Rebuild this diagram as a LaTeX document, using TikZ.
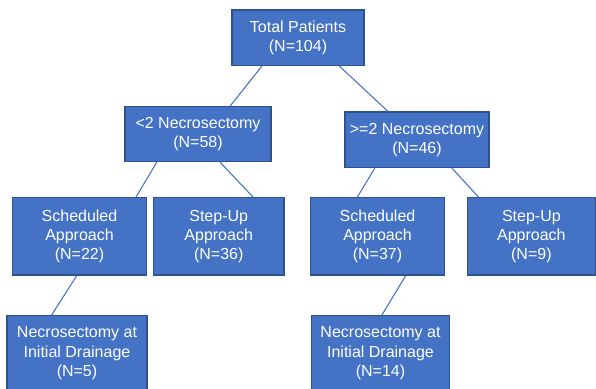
\documentclass[tikz,border=0pt]{standalone}
\usepackage{fontspec}
\setmainfont{Liberation Sans}
\usetikzlibrary{positioning, calc}

\definecolor{boxfill}{HTML}{4472C4}
\definecolor{boxline}{HTML}{2F528F}

\begin{document}
\begin{tikzpicture}[
        x=0.75pt, y=-0.75pt,
        group/.style={rectangle, draw=boxline, line width=0.9pt, fill=boxfill, text=white, inner sep=0pt, align=center, font=\fontsize{12}{14.4}\selectfont},
        link/.style={draw=boxfill, line width=0.8pt}
    ]
        \useasboundingbox (0,0) rectangle (596,389);
        \clip (0,0) rectangle (596,389);

        \node[group, minimum width=99pt, minimum height=41.5pt] (total) at (298,37.7) {Total Patients\\(N=104)};
        \node[group, minimum width=109.5pt, minimum height=41.5pt] (less) at (198,134) {<2 Necrosectomy\\(N=58)};
        \node[group, minimum width=108pt, minimum height=41.5pt] (more) at (417,139.7) {>=2 Necrosectomy\\(N=46)};

        \node[group, minimum width=100pt, minimum height=58pt] (schedless) at (79.5,236.3) {Scheduled\\Approach\\(N=22)};
        \node[group, minimum width=98pt, minimum height=58pt, right=4.5pt of schedless] (stepless) {Step-Up\\Approach\\(N=36)};
        \node[group, minimum width=100pt, minimum height=58pt] (schedmore) at (377.5,236.3) {Scheduled\\Approach\\(N=37)};
        \node[group, minimum width=96pt, minimum height=58pt, right=16.5pt of schedmore] (stepmore) {Step-Up\\Approach\\(N=9)};

        \node[group, minimum width=105pt, minimum height=56.5pt] (initless) at (77,353.3) {Necrosectomy at\\Initial Drainage\\(N=5)};
        \node[group, minimum width=104pt, minimum height=56.5pt] (initmore) at (380.5,353.3) {Necrosectomy at\\Initial Drainage\\(N=14)};

        % tree links
        \draw[link] ($(total.south west)!0.23!(total.south east)$) -- ($(less.north west)!0.72!(less.north east)$);
        \draw[link] ($(total.south west)!0.81!(total.south east)$) -- ($(more.north west)!0.30!(more.north east)$);
        \draw[link] ($(less.south west)!0.22!(less.south east)$) -- ($(schedless.north west)!0.92!(schedless.north east)$);
        \draw[link] ($(less.south west)!0.65!(less.south east)$) -- ($(stepless.north west)!0.76!(stepless.north east)$);
        \draw[link] ($(more.south west)!0.21!(more.south east)$) -- ($(schedmore.north west)!0.35!(schedmore.north east)$);
        \draw[link] ($(more.south west)!0.74!(more.south east)$) -- ($(stepmore.north west)!0.09!(stepmore.north east)$);
        \draw[link] ($(schedless.south west)!0.48!(schedless.south east)$) -- ($(initless.north west)!0.32!(initless.north east)$);
        \draw[link] ($(schedmore.south west)!0.71!(schedmore.south east)$) -- ($(initmore.north west)!0.51!(initmore.north east)$);
    \end{tikzpicture}
\end{document}
